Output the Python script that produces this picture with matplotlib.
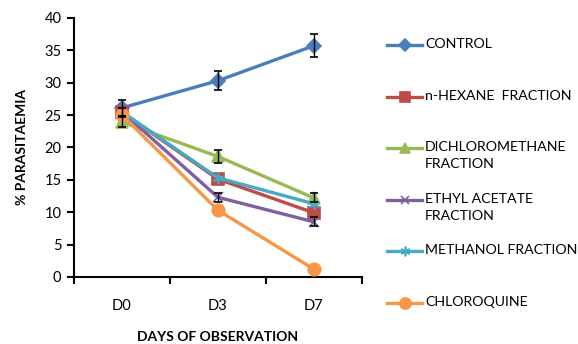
import matplotlib
matplotlib.use("Agg")
import matplotlib.pyplot as plt
from matplotlib.lines import Line2D

days = ["D0", "D3", "D7"]

control = [26.1, 30.3, 35.7]
control_err = [1.2, 1.5, 1.8]
n_hexane = [25.4, 15.1, 9.9]
dichloromethane = [23.9, 18.6, 12.2]
dichloromethane_err = [0.8, 1.0, 0.7]
ethyl_acetate = [25.5, 12.3, 8.5]
ethyl_acetate_err = [0.6, 0.7, 0.7]
methanol = [25.5, 15.3, 11.3]
chloroquine = [25.0, 10.3, 1.2]

labels = ["CONTROL", "n-HEXANE  FRACTION", "DICHLOROMETHANE\nFRACTION",
          "ETHYL ACETATE\nFRACTION", "METHANOL FRACTION", "CHLOROQUINE"]
colors = ["#4A7EBB", "#BE4B48", "#98B954", "#7D60A0", "#46AAC5", "#F79646"]
markers = ["D", "s", "^", "x", (6, 2, 0), "o"]
msizes = [7, 8, 8, 7, 8, 9]
series = [control, n_hexane, dichloromethane, ethyl_acetate, methanol, chloroquine]
errors = [control_err, None, dichloromethane_err, ethyl_acetate_err, None, None]

plt.rcParams["font.family"] = ["Lato", "DejaVu Sans"]

fig = plt.figure(figsize=(5.78, 3.44), dpi=100)
ax = fig.add_axes([0.128, 0.195, 0.498, 0.753])

x = list(range(len(days)))
for vals, err, c, m, ms in zip(series, errors, colors, markers, msizes):
    ax.plot(x, vals, color=c, lw=2.4, marker=m, ms=ms, mec=c, mfc=c, mew=1.2, zorder=3)
    if err is not None:
        ax.errorbar(x, vals, yerr=err, fmt="none", ecolor="black", elinewidth=1,
                    capsize=3, capthick=1.2, zorder=4)

ax.set_xlim(-0.5, 2.5)
ax.set_ylim(0, 40)
ax.set_yticks(range(0, 41, 5))
ax.set_xticks(x)
ax.set_xticklabels(days)
ax.set_xticks([-0.5, 0.5, 1.5, 2.5], minor=True)
ax.tick_params(axis="x", which="major", length=0, pad=16, labelsize=10.5)
ax.tick_params(axis="x", which="minor", length=5, width=1.5, direction="out")
ax.tick_params(axis="y", length=5, width=1.5, direction="out", labelsize=10.5, pad=4)
for s in ["top", "right"]:
    ax.spines[s].set_visible(False)
for s in ["left", "bottom"]:
    ax.spines[s].set_linewidth(1.5)

ax.set_ylabel("% PARASITAEMIA", fontweight="bold", fontsize=10, labelpad=12)
ax.set_xlabel("DAYS OF OBSERVATION", fontweight="bold", fontsize=10)
ax.xaxis.set_label_coords(0.5, -0.208)

# legend on the right, entries evenly spaced like the original
W, H = 578, 344
for i, (lab, c, m, ms) in enumerate(zip(labels, colors, markers, msizes)):
    yp = 45 + 51.6 * i
    yf = 1 - yp / H
    fig.add_artist(Line2D([387 / W, 422 / W], [yf, yf], color=c, lw=2.4))
    fig.add_artist(Line2D([404.5 / W], [yf], color=c, marker=m, ms=ms - 1,
                          mfc=c, mec=c, mew=1.2))
    fig.text(425 / W, (1 - (yp - 7) / H), lab, fontsize=10.2, va="top",
             ha="left", linespacing=1.5)

fig.savefig("out.png", dpi=100)
